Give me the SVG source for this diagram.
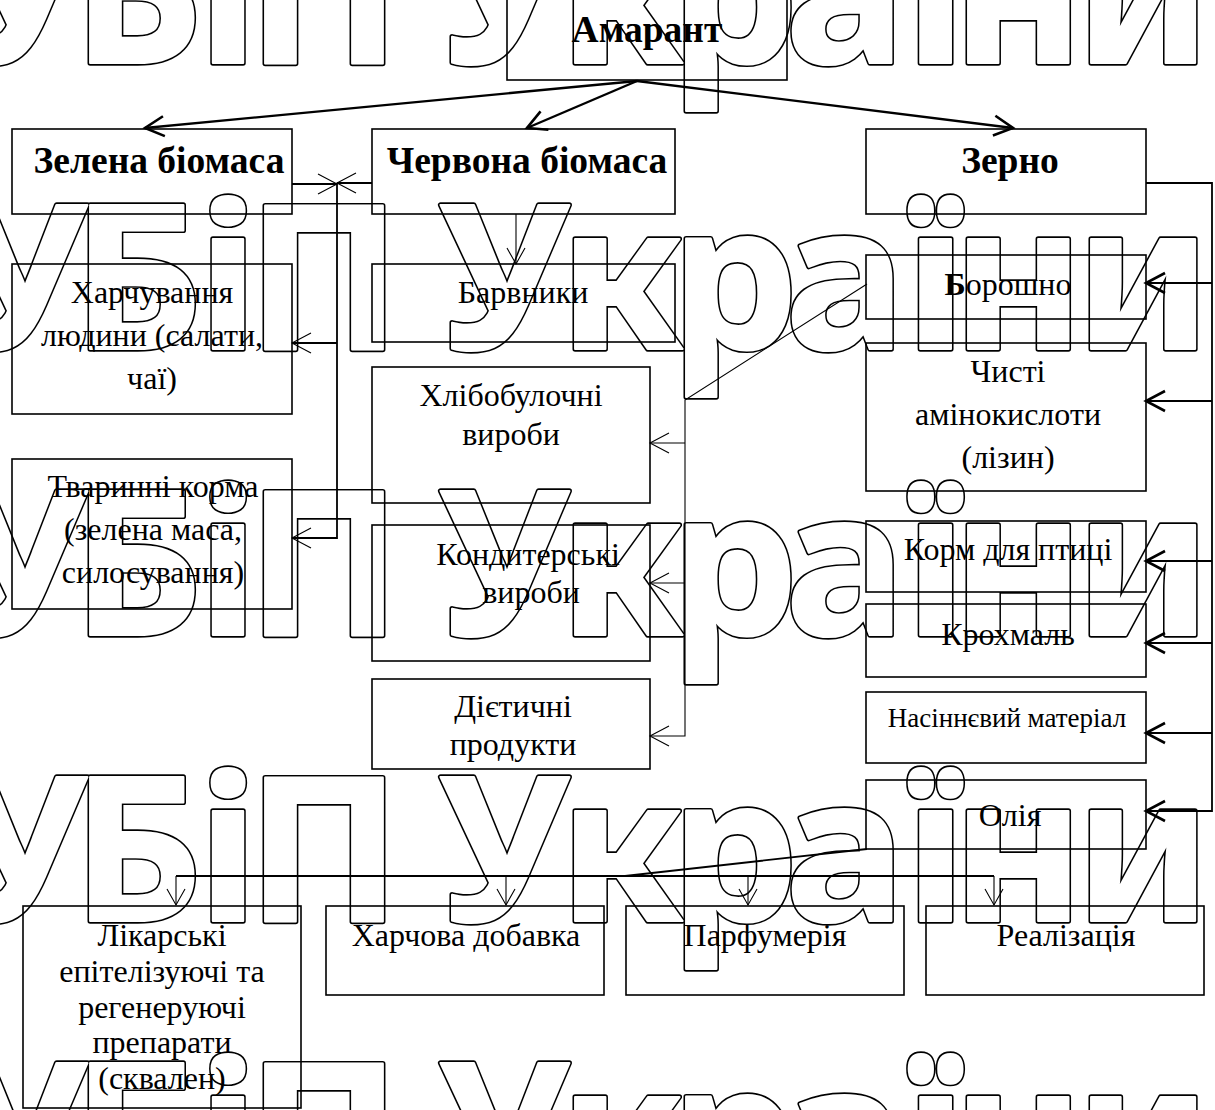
<svg xmlns="http://www.w3.org/2000/svg" width="1215" height="1110" viewBox="0 0 1215 1110">
<style>
.box{fill:none;stroke:#000;stroke-width:1.6}
.t{font-family:"Liberation Serif","Times New Roman",serif;font-size:32px;fill:#000;text-anchor:middle}
.b{font-family:"Liberation Serif","Times New Roman",serif;font-size:37.5px;font-weight:bold;fill:#000;text-anchor:middle}
.s{font-size:27px}
.wm{font-family:"Noto Sans","Open Sans",sans-serif;font-size:202px;font-weight:bold}
.c{fill:none;stroke:#000}
.thick{stroke-width:2.4}
.mid{stroke-width:1.8}
.thin{stroke-width:1.1}
</style>
<defs>
<marker id="ah" markerUnits="userSpaceOnUse" markerWidth="26" markerHeight="26" viewBox="-22 -13 26 26" refX="0" refY="0" orient="auto" overflow="visible">
<path d="M-19,-10 L0,0 L-19,10" fill="none" stroke="#000" stroke-width="2.6"/>
</marker>
<marker id="at" markerUnits="userSpaceOnUse" markerWidth="26" markerHeight="26" viewBox="-22 -13 26 26" refX="0" refY="0" orient="auto" overflow="visible">
<path d="M-19,-10 L0,0 L-19,10" fill="none" stroke="#000" stroke-width="1.1"/>
</marker>
<marker id="as" markerUnits="userSpaceOnUse" markerWidth="20" markerHeight="20" viewBox="-18 -10 20 20" refX="0" refY="0" orient="auto" overflow="visible">
<path d="M-16,-9 L0,0 L-16,9" fill="none" stroke="#000" stroke-width="1.1"/>
</marker>
<g id="wmrows">
<text class="wm" y="63" x="-43 72 197 247 400 439 559 670 785 904 952 1075">УБіП України</text>
<text class="wm" y="349" x="-43 72 197 247 400 439 559 670 785 904 952 1075">УБіП України</text>
<text class="wm" y="635" x="-43 72 197 247 400 439 559 670 785 904 952 1075">УБіП України</text>
<text class="wm" y="921" x="-43 72 197 247 400 439 559 670 785 904 952 1075">УБіП України</text>
<text class="wm" y="1207" x="-43 72 197 247 400 439 559 670 785 904 952 1075">УБіП України</text>
</g>
</defs>
<rect width="1215" height="1110" fill="#fff"/>

<g id="watermark">
<use href="#wmrows" fill="none" stroke="#000" stroke-width="5.4" stroke-linejoin="round"/>
<use href="#wmrows" fill="#fff" stroke="#fff" stroke-width="2.2" stroke-linejoin="round"/>
</g>

<g id="connectors">
<line class="c thick" x1="637" y1="81" x2="145" y2="128" marker-end="url(#ah)"/>
<line class="c thick" x1="637" y1="81" x2="527" y2="128" marker-end="url(#ah)"/>
<line class="c thick" x1="637" y1="81" x2="1013" y2="128" marker-end="url(#ah)"/>
<line class="c mid" x1="292" y1="184" x2="337" y2="184" marker-end="url(#at)"/>
<line class="c mid" x1="372" y1="183" x2="337" y2="183" marker-end="url(#at)"/>
<polyline class="c mid" points="337,183 337,538 292,538" marker-end="url(#at)"/>
<line class="c mid" x1="337" y1="343" x2="292" y2="343" marker-end="url(#at)"/>
<line class="c thin" x1="516" y1="214" x2="516" y2="264" marker-end="url(#as)"/>
<polyline class="c thin" points="867,284 685,400 685,736 650,736" marker-end="url(#at)"/>
<line class="c thin" x1="685" y1="443" x2="650" y2="443" marker-end="url(#at)"/>
<line class="c thin" x1="685" y1="583" x2="650" y2="583" marker-end="url(#at)"/>
<polyline class="c mid" points="1146,183 1212,183 1212,811 1146,811" marker-end="url(#ah)"/>
<line class="c mid" x1="1212" y1="283" x2="1146" y2="283" marker-end="url(#ah)"/>
<line class="c mid" x1="1212" y1="401" x2="1146" y2="401" marker-end="url(#ah)"/>
<line class="c mid" x1="1212" y1="561" x2="1146" y2="561" marker-end="url(#ah)"/>
<line class="c mid" x1="1212" y1="643" x2="1146" y2="643" marker-end="url(#ah)"/>
<line class="c mid" x1="1212" y1="733" x2="1146" y2="733" marker-end="url(#ah)"/>
<polyline class="c mid" points="867,849 625,876 176,876"/>
<line class="c mid" x1="625" y1="876" x2="994" y2="876"/>
<line class="c thin" x1="176" y1="876" x2="176" y2="905" marker-end="url(#as)"/>
<line class="c thin" x1="506" y1="876" x2="506" y2="905" marker-end="url(#as)"/>
<line class="c thin" x1="748" y1="876" x2="748" y2="905" marker-end="url(#as)"/>
<line class="c thin" x1="994" y1="876" x2="994" y2="905" marker-end="url(#as)"/>
</g>

<g id="n-amarant"><rect class="box" x="507" y="-5" width="280" height="85"/><text class="b" x="647" y="42">Амарант</text></g>
<g id="n-zelena"><rect class="box" x="12" y="129" width="280" height="85"/><text class="b" x="159" y="173">Зелена біомаса</text></g>
<g id="n-chervona"><rect class="box" x="372" y="129" width="303" height="85"/><text class="b" x="527" y="173">Червона біомаса</text></g>
<g id="n-zerno"><rect class="box" x="866" y="129" width="280" height="85"/><text class="b" x="1010" y="173">Зерно</text></g>

<g id="n-harch"><rect class="box" x="12" y="264" width="280" height="150"/><text class="t" x="152" y="303">Харчування</text><text class="t" x="152" y="346">людини (салати,</text><text class="t" x="152" y="389">чаї)</text></g>
<g id="n-tvar"><rect class="box" x="12" y="459" width="280" height="150"/><text class="t" x="153" y="497">Тваринні корма</text><text class="t" x="153" y="540">(зелена маса,</text><text class="t" x="153" y="583">силосування)</text></g>

<g id="n-barv"><rect class="box" x="372" y="264" width="303" height="78"/><text class="t" x="523" y="303">Барвники</text></g>
<g id="n-hlib"><rect class="box" x="372" y="367" width="278" height="136"/><text class="t" x="511" y="406">Хлібобулочні</text><text class="t" x="511" y="445">вироби</text></g>
<g id="n-kond"><rect class="box" x="372" y="525" width="278" height="136"/><text class="t" x="528" y="565">Кондитерські</text><text class="t" x="531" y="603">вироби</text></g>
<g id="n-diet"><rect class="box" x="372" y="679" width="278" height="90"/><text class="t" x="513" y="717">Дієтичні</text><text class="t" x="513" y="755">продукти</text></g>

<g id="n-borosh"><rect class="box" x="866" y="255" width="280" height="64"/><text class="t" x="1008" y="295"><tspan font-weight="bold">Б</tspan>орошно</text></g>
<g id="n-chysti"><rect class="box" x="866" y="343" width="280" height="148"/><text class="t" x="1008" y="382">Чисті</text><text class="t" x="1008" y="425">амінокислоти</text><text class="t" x="1008" y="468">(лізин)</text></g>
<g id="n-korm"><rect class="box" x="866" y="521" width="280" height="71"/><text class="t" x="1008" y="560">Корм для птиці</text></g>
<g id="n-kroh"><rect class="box" x="866" y="604" width="280" height="73"/><text class="t" x="1008" y="645">Крохмаль</text></g>
<g id="n-nasin"><rect class="box" x="866" y="692" width="280" height="71"/><text class="t s" x="1007" y="727">Насіннєвий матеріал</text></g>
<g id="n-oliya"><rect class="box" x="866" y="780" width="280" height="69"/><text class="t" x="1010" y="826">Олія</text></g>

<g id="n-likar"><rect class="box" x="23" y="906" width="278" height="202"/><text class="t" x="162" y="946">Лікарські</text><text class="t" x="162" y="982">епітелізуючі та</text><text class="t" x="162" y="1018">регенеруючі</text><text class="t" x="162" y="1053">препарати</text><text class="t" x="162" y="1089">(сквален)</text></g>
<g id="n-harchdob"><rect class="box" x="326" y="906" width="278" height="89"/><text class="t" x="466" y="946">Харчова добавка</text></g>
<g id="n-parf"><rect class="box" x="626" y="906" width="278" height="89"/><text class="t" x="765" y="946">Парфумерія</text></g>
<g id="n-real"><rect class="box" x="926" y="906" width="278" height="89"/><text class="t" x="1066" y="946">Реалізація</text></g>
</svg>
